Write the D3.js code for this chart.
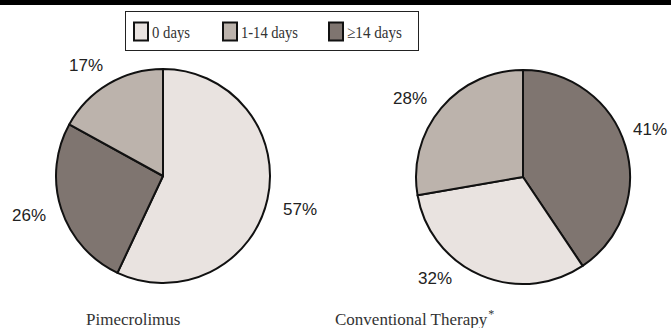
<!DOCTYPE html>
<html>
<head>
<meta charset="utf-8">
<script src="https://cdn.jsdelivr.net/npm/d3@7"></script>
<style>
  html, body { margin: 0; padding: 0; background: #fff; }
  svg { display: block; }
</style>
</head>
<body>
<svg id="chart" width="671" height="328"></svg>
<script>
// Categories and their fills
const categories = ["0 days", "1-14 days", "\u226514 days"];
const colors = ["#e9e3e0", "#bcb3ac", "#7f7570"];

// Slice order (clockwise from 12 o'clock) and percentages per treatment group
const pimeOrder = ["0 days", "\u226514 days", "1-14 days"];
const pimeValues = [57, 26, 17];
const convOrder = ["\u226514 days", "0 days", "1-14 days"];
const convValues = [41, 32, 28];

const groupTitles = ["Pimecrolimus", "Conventional Therapy"];

const svg = d3.select("#chart");
const W = 671;
const serif = "'Liberation Serif', 'DejaVu Serif', serif";

const color = d3.scaleOrdinal().domain(categories).range(colors);

// Top rule
svg.append("rect").attr("x", 0).attr("y", 0).attr("width", W).attr("height", 5).attr("fill", "#000");

// Legend
const legend = svg.append("g");
legend.append("rect").attr("x", 125.5).attr("y", 11.5).attr("width", 293).attr("height", 39)
  .attr("fill", "#fff").attr("stroke", "#222").attr("stroke-width", 1);
const legendX = [134, 223, 329];
const legendTextW = [38, 57, 55];
categories.forEach((c, i) => {
  legend.append("rect").attr("x", legendX[i]).attr("y", 22.5).attr("width", 14).attr("height", 18)
    .attr("fill", color(c)).attr("stroke", "#111").attr("stroke-width", 2);
  legend.append("text").attr("x", legendX[i] + 18).attr("y", 37.5)
    .attr("font-family", serif).attr("font-size", 17)
    .attr("textLength", legendTextW[i]).attr("lengthAdjust", "spacingAndGlyphs")
    .attr("fill", "#333").text(c);
});

const arc = d3.arc().innerRadius(0).outerRadius(107);
const pie = d3.pie().sort(null).value(d => d.v);

function drawPie(cx, cy, order, values, labelPos) {
  const data = order.map((k, i) => ({ k, v: values[i] }));
  const g = svg.append("g").attr("transform", `translate(${cx},${cy})`);
  const arcs = pie(data);
  g.selectAll("path").data(arcs).join("path")
    .attr("d", arc)
    .attr("fill", d => color(d.data.k))
    .attr("stroke", "#111").attr("stroke-width", 2).attr("stroke-linejoin", "round");
  g.selectAll("text").data(arcs).join("text")
    .attr("x", (d, i) => labelPos[i][0]).attr("y", (d, i) => labelPos[i][1])
    .attr("text-anchor", "middle").attr("dominant-baseline", "central")
    .attr("font-family", "'Liberation Sans', Arial, sans-serif").attr("font-size", 17)
    .attr("fill", "#222")
    .text(d => d.data.v + "%");
}

// Label offsets relative to each pie centre
drawPie(163, 176, pimeOrder, pimeValues, [[137, 33], [-134, 39], [-77, -111]]);
drawPie(523, 177, convOrder, convValues, [[127, -48], [-88, 101], [-113, -79]]);

// Group titles
svg.append("text").attr("x", 86).attr("y", 325)
  .attr("font-family", serif).attr("font-size", 17).attr("fill", "#333")
  .text(groupTitles[0]);
const t2 = svg.append("text").attr("x", 335).attr("y", 325)
  .attr("font-family", serif).attr("font-size", 17).attr("fill", "#333");
t2.append("tspan").text(groupTitles[1]);
t2.append("tspan").attr("dx", 1).attr("dy", -7).attr("font-size", 12).text("*");
</script>
</body>
</html>
